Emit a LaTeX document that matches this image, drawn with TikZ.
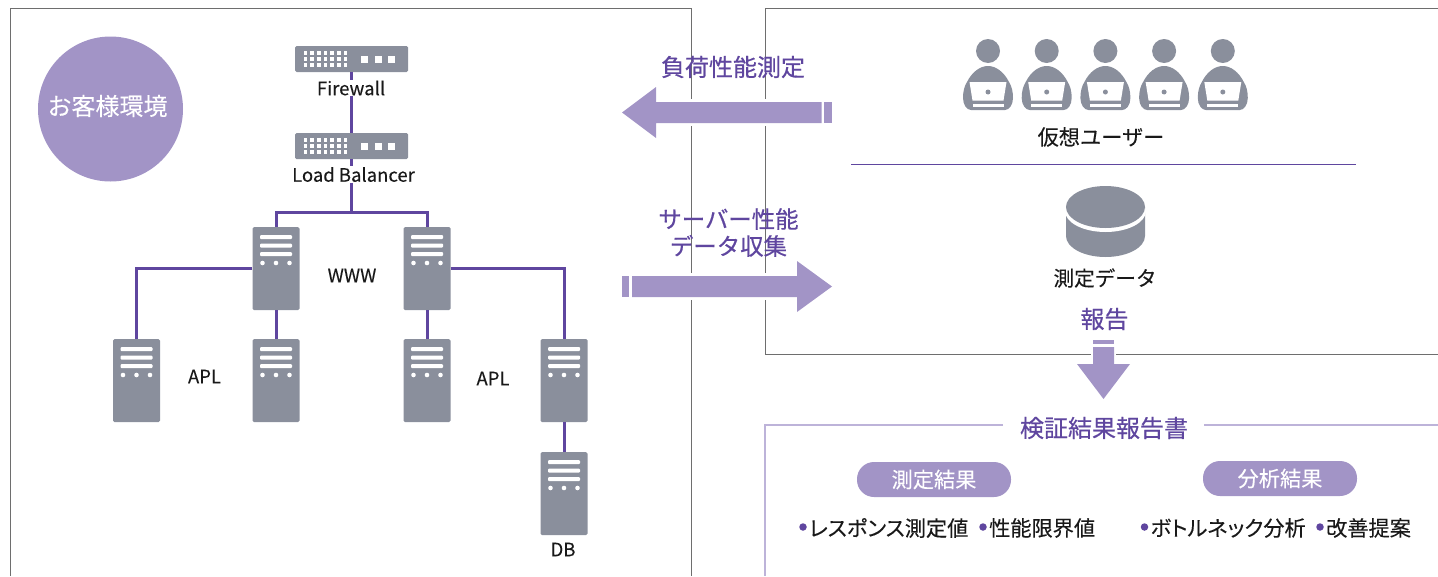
\documentclass[tikz,border=0pt]{standalone}
\usepackage{fontspec}
\setmainfont{Noto Sans CJK JP}
\usetikzlibrary{positioning}

\definecolor{iconGray}{HTML}{8A8F9C}
\definecolor{lightPurple}{HTML}{A294C6}
\definecolor{paleLine}{HTML}{BDB3D9}
\definecolor{deepPurple}{HTML}{5F469F}
\definecolor{frameGray}{HTML}{6E6E6E}

\tikzset{
  serverbody/.style={fill=iconGray,rounded corners=1.5pt,minimum width=47pt,minimum height=83pt,inner sep=0pt},
  netbody/.style={fill=iconGray,rounded corners=1.5pt,minimum width=113pt,minimum height=26pt,inner sep=0pt},
  link/.style={draw=deepPurple,line width=3pt},
  frame/.style={draw=frameGray,line width=1pt},
  devlabel/.style={font=\fontsize{18.5}{20}\selectfont\addfontfeature{FakeBold=0.12},text=black!90,inner sep=1pt},
  jplabel/.style={font=\fontsize{21.2}{24}\selectfont\addfontfeature{FakeBold=0.12},text=black!90,inner sep=1pt},
  hotlabel/.style={font=\fontsize{24}{27}\selectfont\addfontfeature{FakeBold=0.5},text=deepPurple,align=center,inner sep=0pt},
  pill/.style={fill=lightPurple,rounded corners=17pt,minimum width=154pt,minimum height=35pt,inner sep=0pt,text=white,font=\fontsize{21.2}{24}\selectfont\addfontfeature{FakeBold=0.12}},
  item/.style={font=\fontsize{21.2}{24}\selectfont\addfontfeature{RawFeature=+palt,FakeBold=0.12},text=black!90,inner sep=0pt,anchor=west},
  bullet/.style={circle,fill=deepPurple,minimum size=7.5pt,inner sep=0pt}
}

\newcommand{\serverbox}[3]{%
  \node[serverbody] (#1) at (#2,#3) {};
  \begin{scope}[shift={(#1.center)}]
    \fill[white,rounded corners=1pt] (-16,-33.5) rectangle (16,-29.5);
    \fill[white,rounded corners=1pt] (-16,-25) rectangle (16,-21);
    \fill[white,rounded corners=1pt] (-16,-16.5) rectangle (16,-12.5);
    \fill[white] (-13.5,-5.5) circle (2.3);
    \fill[white] (0,-5.5) circle (2.3);
    \fill[white] (13.5,-5.5) circle (2.3);
  \end{scope}}

\newcommand{\netbox}[3]{%
  \node[netbody] (#1) at (#2,#3) {};
  \begin{scope}[shift={(#1.center)}]
    \foreach \row in {-6,0,6}
      \foreach \col in {-46,-39.3,-32.7,-26,-19.3,-12.7,-6}
        \fill[white] (\col-1.8,\row-1.8) rectangle (\col+1.8,\row+1.8);
    \fill[white] (9.5,-3.5) rectangle (16.5,3.5);
    \fill[white] (23,-3.5) rectangle (30,3.5);
    \fill[white] (36.5,-3.5) rectangle (43.5,3.5);
  \end{scope}}

\newcommand{\usericon}[2]{%
  \node[circle,fill=iconGray,minimum size=24pt,inner sep=0pt] (#1) at (#2,51) {};
  \begin{scope}[shift={(#1.center)}]
    \fill[iconGray] (-25,47) .. controls (-25,40) and (-23.5,35) .. (-21,31)
      .. controls (-16,21) and (-8,15) .. (0,15)
      .. controls (8,15) and (16,21) .. (21,31)
      .. controls (23.5,35) and (25,40) .. (25,47)
      .. controls (25,54) and (21,59) .. (17,59) -- (-17,59)
      .. controls (-21,59) and (-25,54) .. (-25,47) -- cycle;
    \fill[white] (-18.5,31) -- (18.5,31) -- (15.5,49.5) -- (-15.5,49.5) -- cycle;
    \fill[white] (-15.5,53) rectangle (15.5,56);
    \fill[iconGray] (0,41) circle (2.5);
  \end{scope}}

\begin{document}
\begin{tikzpicture}[x=1pt,y=-1pt]
\useasboundingbox (0,0) rectangle (1438,576);

% frames
\draw[frame] (10,576) -- (10,8.5) -- (691,8.5) -- (691,576);
\draw[frame] (1438,8.5) -- (765,8.5) -- (765,354) -- (1438,354);
\draw[draw=paleLine,line width=2pt] (1003,425) -- (765,425) -- (765,576);
\draw[draw=paleLine,line width=2pt] (1204,425) -- (1438,425);

% customer side
\node[circle,fill=lightPurple,minimum size=145pt,inner sep=0pt] (customer) at (110.5,109) {};
\node[jplabel,text=white,font=\fontsize{24}{26}\selectfont\addfontfeature{FakeBold=0.12}] (customertext) at (107.5,106) {お客様環境};

\netbox{firewall}{351.5}{59}
\netbox{balancer}{351.5}{146}
\serverbox{wwwa}{276}{268.5}
\serverbox{wwwb}{427}{268.5}
\serverbox{apla}{136.5}{380.5}
\serverbox{aplb}{276}{380.5}
\serverbox{aplc}{427}{380.5}
\serverbox{apld}{564}{380.5}
\serverbox{dbase}{564}{493.5}

\coordinate (trunk) at (351.5,212);
\draw[link] (firewall) -- (balancer);
\draw[link] (balancer) -- (trunk);
\draw[link] (wwwa.north) |- (trunk) -| (wwwb.north);
\draw[link] (wwwa.west) -| (apla.north);
\draw[link] (wwwb.east) -| (apld.north);
\draw[link] (wwwa.south) -- (aplb.north);
\draw[link] (wwwb.south) -- (aplc.north);
\draw[link] (apld.south) -- (dbase.north);

\node[devlabel,fill=white] (fwlabel) at (351,88) {Firewall};
\node[devlabel,fill=white] (lblabel) at (353.5,174.5) {Load Balancer};
\node[devlabel] (wwwlabel) at (352,275.5) {WWW};
\node[devlabel] (aplleft) at (204.5,376.5) {APL};
\node[devlabel] (aplright) at (493,378.5) {APL};
\node[devlabel] (dblabel) at (563,549.5) {DB};

% big arrows
\fill[white] (680,99) rectangle (780,126);
\fill[lightPurple] (622,112.5) -- (656,87) -- (656,102) -- (821.5,102) -- (821.5,123) -- (656,123) -- (656,138) -- cycle;
\fill[lightPurple] (824,102) rectangle (832,123);
\fill[white] (680,273) rectangle (780,300);
\fill[lightPurple] (622,276) rectangle (629,297);
\fill[lightPurple] (632,276) -- (797,276) -- (797,261) -- (832,286.5) -- (797,312) -- (797,297) -- (632,297) -- cycle;
\node[hotlabel] (loadtest) at (733,67) {負荷性能測定};
\node[hotlabel,font=\fontsize{23.4}{27}\selectfont\addfontfeature{FakeBold=0.5}] (gather) at (728.5,232.5) {サーバー性能\\データ収集};

% test side
\usericon{usera}{988}
\usericon{userb}{1046.7}
\usericon{userc}{1105.4}
\usericon{userd}{1164.1}
\usericon{usere}{1222.8}
\node[jplabel] (virtual) at (1101,137) {仮想ユーザー};
\coordinate (splitl) at (851,164.5);
\coordinate (splitr) at (1356,164.5);
\draw[draw=deepPurple,line width=1pt] (splitl) -- (splitr);

\fill[iconGray] (1066,207) -- (1066,236) arc[start angle=180,end angle=0,x radius=39.5,y radius=21] -- (1145,207) -- cycle;
\fill[white] (1105.5,211) ellipse[x radius=40.5,y radius=21];
\fill[iconGray] (1105.5,207) ellipse[x radius=39.5,y radius=21];
\node[jplabel,font=\fontsize{20.6}{24}\selectfont\addfontfeature{FakeBold=0.12}] (measured) at (1105,278) {測定データ};
\node[hotlabel] (report) at (1104.5,319) {報告};

% report arrow
\fill[white] (1091,351) rectangle (1116,357);
\fill[lightPurple] (1093,340) rectangle (1114,344);
\fill[lightPurple] (1093,347) -- (1114,347) -- (1114,364) -- (1130,364) -- (1103.5,399) -- (1077,364) -- (1093,364) -- cycle;

% report box
\node[hotlabel] (resultbook) at (1104,428) {検証結果報告書};
\node[pill] (measure) at (934,479.5) {測定結果};
\node[pill] (analysis) at (1280,478.5) {分析結果};
\node[bullet] (dota) at (803,527) {};
\node[item,right=2pt of dota,yshift=-1pt] (itema) {レスポンス測定値};
\node[bullet] (dotb) at (983,527) {};
\node[item,right=2pt of dotb,yshift=-1pt] (itemb) {性能限界値};
\node[bullet] (dotc) at (1144.5,527) {};
\node[item,right=2pt of dotc,yshift=-1pt] (itemc) {ボトルネック分析};
\node[bullet] (dotd) at (1320,527) {};
\node[item,right=2pt of dotd,yshift=-1pt] (itemd) {改善提案};
\end{tikzpicture}
\end{document}
